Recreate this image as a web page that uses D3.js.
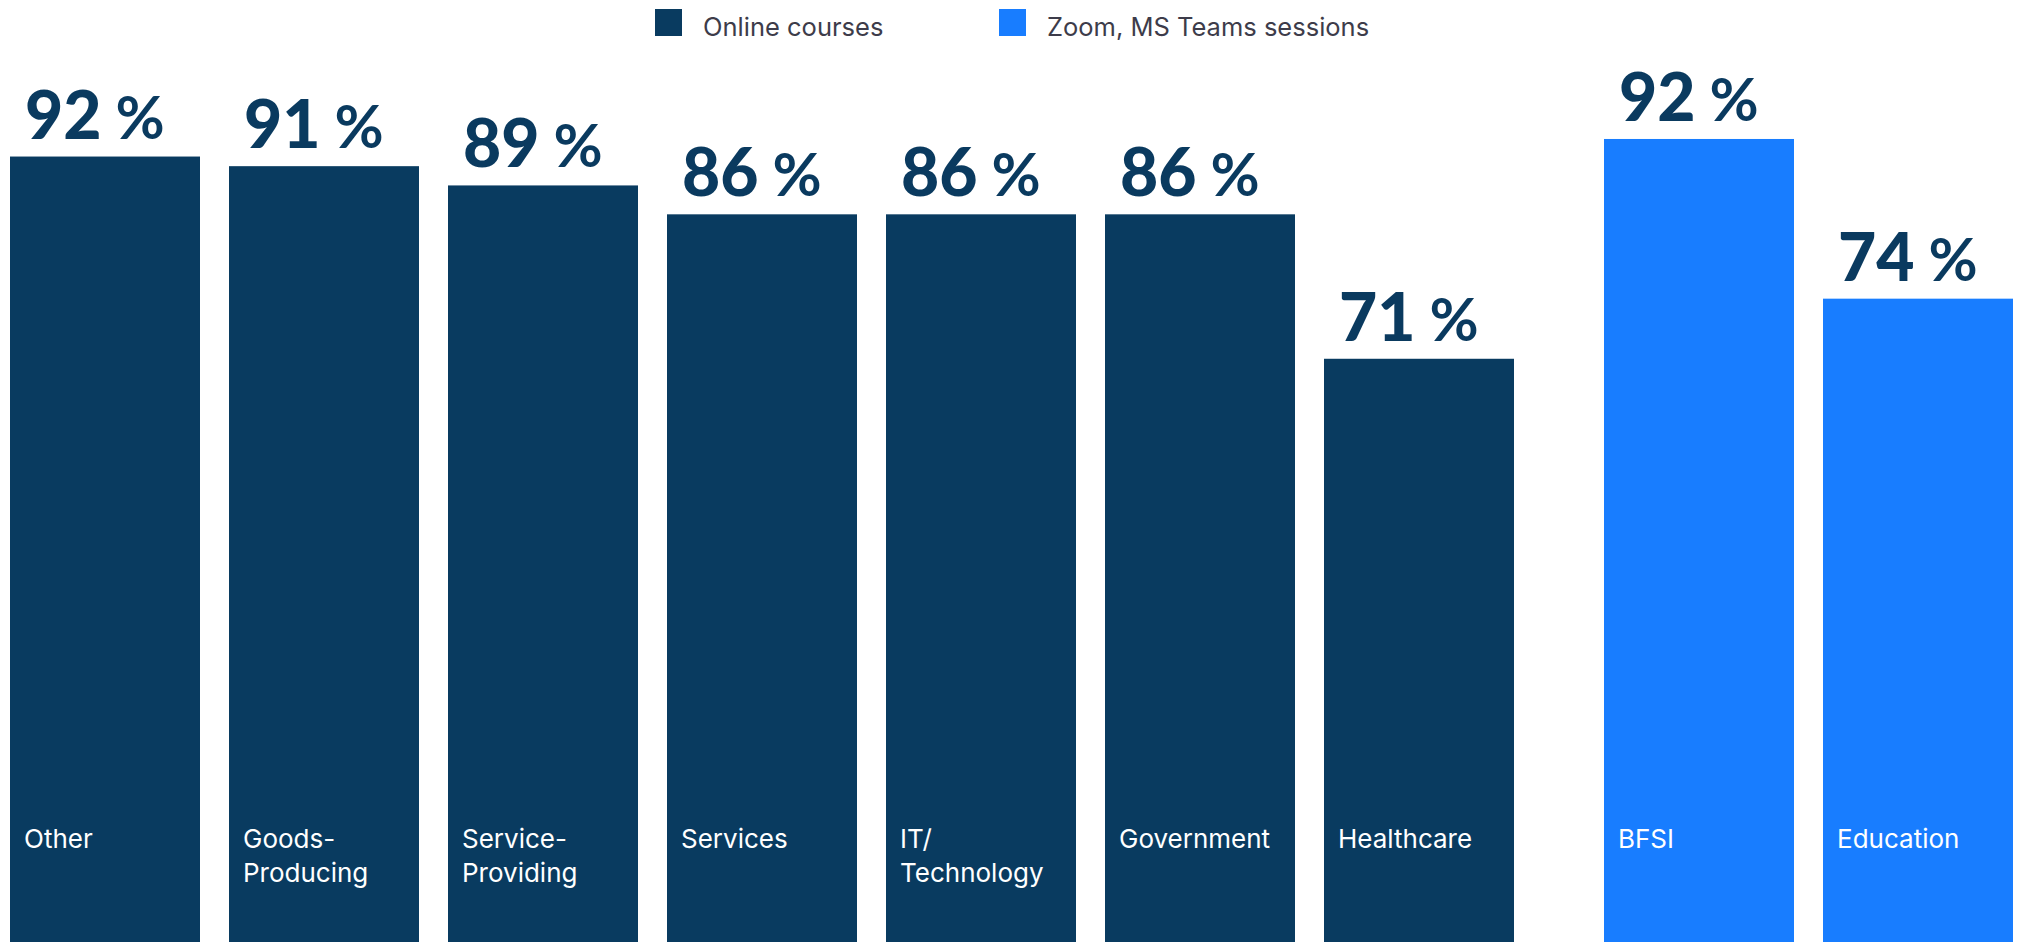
<!DOCTYPE html>
<html>
<head>
<meta charset="utf-8">
<script src="https://cdn.jsdelivr.net/npm/d3@7"></script>
<style>
  body { margin: 0; background: #fff; }
  svg { display: block; }
  .value { font-family: Lato, "Noto Sans", sans-serif; font-weight: 900; fill: #0a3a5f; }
  .cat { font-family: Inter, "Noto Sans", sans-serif; font-size: 26px; fill: #fff; }
  .legend text { font-family: Inter, "Noto Sans", sans-serif; font-size: 25.5px; fill: #3d3c4a; }
</style>
</head>
<body>
<div id="chart"></div>
<script>
var categories = ["Other", "Goods-|Producing", "Service-|Providing", "Services", "IT/|Technology", "Government", "Healthcare", "BFSI", "Education"],
    values = [92, 91, 89, 86, 86, 86, 71, 92, 74],
    series = ["online", "online", "online", "online", "online", "online", "online", "zoom", "zoom"],
    seriesNames = ["Online courses", "Zoom, MS Teams sessions"],
    colors = { online: "#093b60", zoom: "#187dff" };

var width = 2019, height = 942,
    groupGap = 61;

var svg = d3.select("#chart").append("svg")
    .attr("width", width)
    .attr("height", height);

var x = d3.scaleBand()
    .domain(categories)
    .range([10, 1952])
    .paddingInner(29 / 219)
    .paddingOuter(0);

// the two groups were drawn on slightly different scales in the original
var y = {
  online: d3.scaleLinear().domain([0, 100]).range([1042.5, 79.5]),
  zoom: d3.scaleLinear().domain([0, 100]).range([955.2, 68])
};

var data = categories.map(function(c, i) {
  return { cat: c, value: values[i], series: series[i] };
});

function barX(d) { return x(d.cat) + (d.series == "zoom" ? groupGap : 0); }

var bars = svg.selectAll(".bar")
    .data(data)
    .enter().append("g")
    .attr("class", "bar");

bars.append("rect")
    .attr("x", barX)
    .attr("y", function(d) { return y[d.series](d.value); })
    .attr("width", x.bandwidth())
    .attr("height", function(d) { return height - y[d.series](d.value); })
    .style("fill", function(d) { return colors[d.series]; });

var valueText = bars.append("text")
    .attr("class", "value")
    .attr("x", function(d) { return barX(d) + 15; })
    .attr("y", function(d) { return y[d.series](d.value) - 18; });

valueText.append("tspan")
    .style("font-size", "66px")
    .text(function(d) { return d.value; });

valueText.append("tspan")
    .attr("dx", 14)
    .style("font-size", "60px")
    .style("font-weight", 700)
    .text("%");

bars.append("text")
    .attr("class", "cat")
    .attr("x", function(d) { return barX(d) + 14; })
    .attr("y", 848)
    .selectAll("tspan")
    .data(function(d) { return d.cat.split("|"); })
    .enter().append("tspan")
      .attr("x", function() { return d3.select(this.parentNode).attr("x"); })
      .attr("dy", function(d, i) { return i == 0 ? 0 : 34; })
      .text(function(d) { return d; });

// legend
var legendX = [655, 999];
var legend = svg.selectAll(".legend")
    .data(seriesNames)
    .enter().append("g")
    .attr("class", "legend")
    .attr("transform", function(d, i) { return "translate(" + legendX[i] + ",9)"; });

legend.append("rect")
    .attr("width", 27)
    .attr("height", 27)
    .style("fill", function(d, i) { return i == 0 ? colors.online : colors.zoom; });

legend.append("text")
    .attr("x", 48)
    .attr("y", 27)
    .text(function(d) { return d; });
</script>
</body>
</html>
